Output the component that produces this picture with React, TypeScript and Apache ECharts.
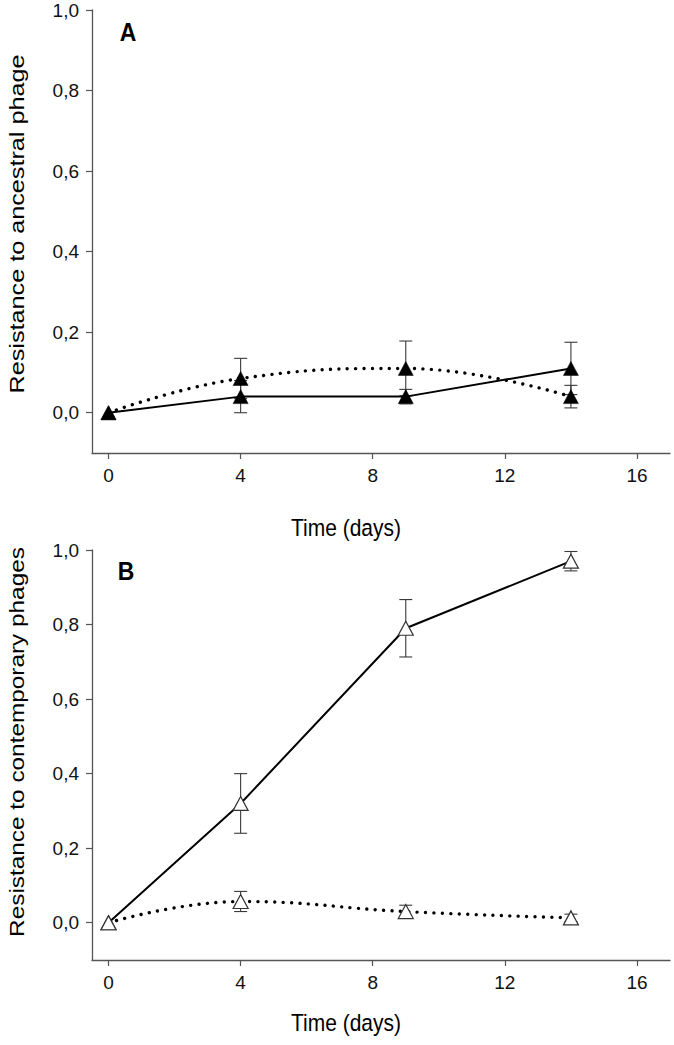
import React, { useEffect, useRef } from "react";
import * as echarts from "echarts";

const days = [0, 4, 9, 14];
const xTicks = [0, 4, 8, 12, 16];
const yTicks = [0, 0.2, 0.4, 0.6, 0.8, 1.0];

const aSolid = [0, 0.04, 0.04, 0.11];
const aSolidErr = [0, 0.04, 0.018, 0.065];
const aDotted = [0, 0.085, 0.11, 0.04];
const aDottedErr = [0, 0.05, 0.068, 0.028];

const bSolid = [0, 0.32, 0.79, 0.97];
const bSolidErr = [0, 0.08, 0.077, 0.026];
const bDotted = [0, 0.057, 0.03, 0.013];
const bDottedErr = [0, 0.027, 0.017, 0.01];

const FONT = "Liberation Sans, Arial, sans-serif";

function pts(vals: number[]) {
  return days.map((d, i) => [d, vals[i]]);
}
function errs(vals: number[], e: number[]) {
  return days.map((d, i) => [d, vals[i] - e[i], vals[i] + e[i]]);
}

function errSeries(idx: number, data: number[][]) {
  return {
    type: "custom",
    xAxisIndex: idx,
    yAxisIndex: idx,
    z: 1,
    silent: true,
    encode: { x: 0, y: [1, 2] },
    data,
    renderItem: (params: any, api: any) => {
      const x = api.value(0);
      const lo = api.value(1);
      const hi = api.value(2);
      if (hi - lo < 1e-6) return { type: "group", children: [] };
      const pl = api.coord([x, lo]);
      const ph = api.coord([x, hi]);
      const w = 6.5;
      const st = { stroke: "#3a3a3a", lineWidth: 1.1 };
      return {
        type: "group",
        children: [
          { type: "line", shape: { x1: pl[0], y1: pl[1], x2: ph[0], y2: ph[1] }, style: st },
          { type: "line", shape: { x1: pl[0] - w, y1: pl[1], x2: pl[0] + w, y2: pl[1] }, style: st },
          { type: "line", shape: { x1: ph[0] - w, y1: ph[1], x2: ph[0] + w, y2: ph[1] }, style: st },
        ],
      };
    },
  };
}

function lineSeries(idx: number, vals: number[], dotted: boolean, filled: boolean) {
  return {
    type: "line",
    xAxisIndex: idx,
    yAxisIndex: idx,
    z: dotted ? 3 : 4,
    data: pts(vals),
    smooth: dotted ? 0.45 : false,
    symbol: "triangle",
    symbolSize: [15, 14],
    showSymbol: true,
    itemStyle: filled
      ? { color: "#000", borderColor: "#000", borderWidth: 0.5 }
      : { color: "#fff", borderColor: "#333", borderWidth: 1.2 },
    lineStyle: dotted
      ? { color: "#000", width: 3.4, type: [0.01, 8.4], cap: "round" }
      : { color: "#000", width: 2 },
  };
}

function xAxis(idx: number) {
  return {
    type: "value",
    gridIndex: idx,
    min: -0.5,
    max: 17,
    axisLine: { show: true, onZero: false, lineStyle: { color: "#555", width: 1.3 } },
    axisTick: { show: true, length: 6, customValues: xTicks, lineStyle: { color: "#555", width: 1.2 } },
    axisLabel: {
      customValues: xTicks,
      fontSize: 19,
      color: "#111",
      margin: 13,
      fontFamily: FONT,
    },
    splitLine: { show: false },
  };
}

function yAxis(idx: number) {
  return {
    type: "value",
    gridIndex: idx,
    min: -0.1,
    max: 1.0,
    axisLine: { show: true, onZero: false, lineStyle: { color: "#555", width: 1.3 } },
    axisTick: { show: true, length: 6, customValues: yTicks, lineStyle: { color: "#555", width: 1.2 } },
    axisLabel: {
      customValues: yTicks,
      fontSize: 19,
      color: "#111",
      margin: 13,
      fontFamily: FONT,
      formatter: (v: number) => v.toFixed(1).replace(".", ","),
    },
    splitLine: { show: false },
  };
}

export default function App() {
  const ref = useRef<HTMLDivElement>(null);
  useEffect(() => {
    document.body.style.margin = "0";
    if (!ref.current) return;
    const chart = echarts.init(ref.current, null, { renderer: "svg" });
    chart.setOption({
      animation: false,
      backgroundColor: "#fff",
      grid: [
        { left: 92, top: 10, width: 578, height: 443 },
        { left: 92, top: 550, width: 578, height: 410 },
      ],
      xAxis: [xAxis(0), xAxis(1)],
      yAxis: [yAxis(0), yAxis(1)],
      graphic: [
        { type: "text", x: 128, y: 32, scaleY: 1.12, style: { text: "A", font: `bold 23px ${FONT}`, fill: "#000", align: "center", verticalAlign: "middle" } },
        { type: "text", x: 126, y: 571, scaleY: 1.12, style: { text: "B", font: `bold 23px ${FONT}`, fill: "#000", align: "center", verticalAlign: "middle" } },
        { type: "text", x: 346, y: 527, scaleY: 1.18, style: { text: "Time (days)", font: `21px ${FONT}`, fill: "#000", align: "center", verticalAlign: "middle" } },
        { type: "text", x: 346, y: 1022, scaleY: 1.18, style: { text: "Time (days)", font: `21px ${FONT}`, fill: "#000", align: "center", verticalAlign: "middle" } },
        { type: "text", x: 17, y: 224, rotation: Math.PI / 2, scaleX: 1.2, style: { text: "Resistance to ancestral phage", font: `21px ${FONT}`, fill: "#000", align: "center", verticalAlign: "middle" } },
        { type: "text", x: 17, y: 742, rotation: Math.PI / 2, scaleX: 1.16, style: { text: "Resistance to contemporary phages", font: `21px ${FONT}`, fill: "#000", align: "center", verticalAlign: "middle" } },
      ],
      series: [
        errSeries(0, errs(aSolid, aSolidErr)),
        errSeries(0, errs(aDotted, aDottedErr)),
        lineSeries(0, aDotted, true, true),
        lineSeries(0, aSolid, false, true),
        errSeries(1, errs(bSolid, bSolidErr)),
        errSeries(1, errs(bDotted, bDottedErr)),
        lineSeries(1, bDotted, true, false),
        lineSeries(1, bSolid, false, false),
      ],
    });
    return () => chart.dispose();
  }, []);
  return <div ref={ref} style={{ width: 674, height: 1045 }} />;
}
